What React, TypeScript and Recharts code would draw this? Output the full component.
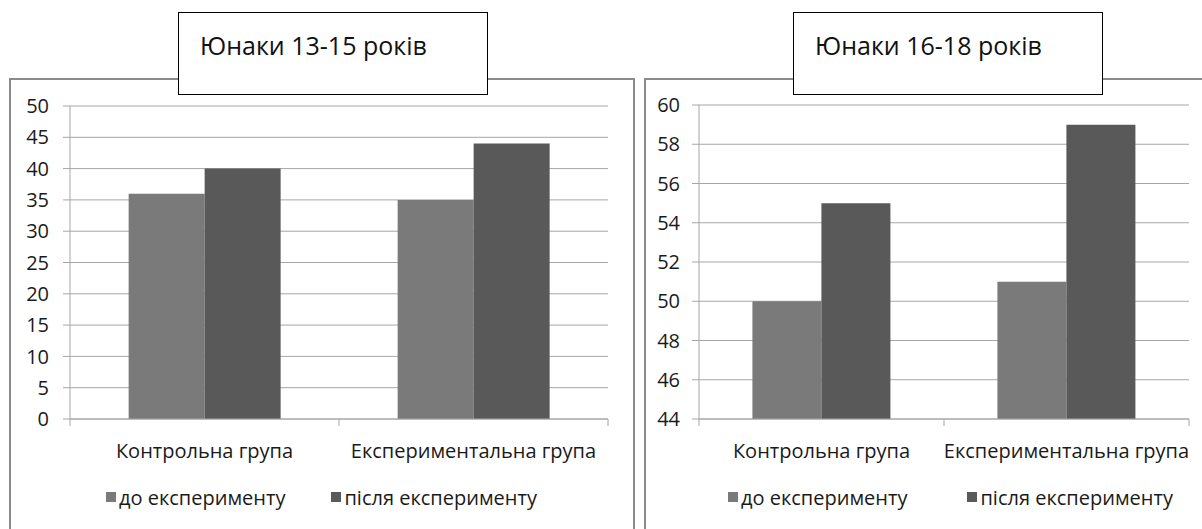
import { BarChart, Bar, XAxis, YAxis, CartesianGrid, Legend } from 'recharts'

const groups = ['Контрольна група', 'Експериментальна група']
const seriesNames = ['до експерименту', 'після експерименту']

const younger = { title: 'Юнаки 13-15 років' }
const youngerBefore = [36, 35]
const youngerAfter = [40, 44]
const youngerTicks = [0, 5, 10, 15, 20, 25, 30, 35, 40, 45, 50]

const older = { title: 'Юнаки 16-18 років' }
const olderBefore = [50, 51]
const olderAfter = [55, 59]
const olderTicks = [44, 46, 48, 50, 52, 54, 56, 58, 60]

const FONT = "'Open Sans', Lato, sans-serif"
const GRID = '#a6a6a6'
const BEFORE = '#7a7a7a'
const AFTER = '#595959'
const TEXT = '#1a1a1a'

function buildRows(before: number[], after: number[]) {
  return groups.map((g, i) => ({ group: g, before: before[i], after: after[i] }))
}

// category label plus Excel-style tick marks on the group boundaries
function GroupTick(props: any) {
  const { x, y, payload, index, band, count } = props
  return (
    <g>
      <line x1={x - band / 2} x2={x - band / 2} y1={y} y2={y + 7} stroke={GRID} />
      {index === count - 1 && <line x1={x + band / 2} x2={x + band / 2} y1={y} y2={y + 7} stroke={GRID} />}
      <text x={x} y={y + 39} textAnchor="middle" fontSize={20} fill={TEXT} fontFamily={FONT}>
        {payload.value}
      </text>
    </g>
  )
}

function LegendRow({ payload, padLeft, gap }: any) {
  return (
    <div style={{ height: 20, display: 'flex', alignItems: 'center', paddingLeft: padLeft, fontFamily: FONT, fontSize: 20, color: TEXT }}>
      {(payload || []).map((p: any, i: number) => (
        <span key={p.value} style={{ display: 'flex', alignItems: 'center', marginLeft: i ? gap : 0 }}>
          <span style={{ width: 10, height: 10, background: p.color, marginRight: 3, display: 'inline-block' }} />
          {p.value}
        </span>
      ))}
    </div>
  )
}

function Panel(props: any) {
  const { left, boxLeft, boxWidth, titleLeft, title, rows, ticks, chartWidth, margin, yWidth, yMargin, legendPad, legendGap } = props
  const band = (chartWidth - margin.left - margin.right - yWidth) / groups.length
  return (
    <>
      <div style={{ position: 'absolute', left: boxLeft, top: 78, width: boxWidth, height: 470, border: '2px solid #8a8a8a', boxSizing: 'border-box', background: '#fff' }} />
      <div style={{ position: 'absolute', left, top: 0 }}>
        <BarChart width={chartWidth} height={529} data={rows} margin={margin} barCategoryGap="21.8%" barGap={0}>
          <CartesianGrid vertical={false} stroke={GRID} />
          <XAxis
            dataKey="group"
            stroke={GRID}
            tickLine={false}
            tickSize={0}
            tickMargin={0}
            height={68}
            interval={0}
            tick={<GroupTick band={band} count={groups.length} />}
          />
          <YAxis
            width={yWidth}
            domain={[ticks[0], ticks[ticks.length - 1]]}
            ticks={ticks}
            interval={0}
            stroke={GRID}
            tickSize={7}
            tickMargin={yMargin}
            tick={{ fontSize: 20, fill: TEXT, fontFamily: FONT }}
          />
          <Legend verticalAlign="bottom" content={(p: any) => <LegendRow payload={p.payload} padLeft={legendPad} gap={legendGap} />} />
          <Bar dataKey="before" name={seriesNames[0]} fill={BEFORE} isAnimationActive={false} />
          <Bar dataKey="after" name={seriesNames[1]} fill={AFTER} isAnimationActive={false} />
        </BarChart>
      </div>
      <div style={{ position: 'absolute', left: titleLeft, top: 12, width: 310, height: 83, border: '1.5px solid #000', boxSizing: 'border-box', background: '#fff', fontFamily: FONT, fontSize: 25, color: '#111', paddingLeft: 21, paddingTop: 15 }}>
        {title}
      </div>
    </>
  )
}

export default function App() {
  return (
    <div style={{ position: 'fixed', left: 0, top: 0, width: 1202, height: 529, overflow: 'hidden', background: '#fff' }}>
      <Panel
        left={0}
        boxLeft={9}
        boxWidth={626}
        titleLeft={178}
        title={younger.title}
        rows={buildRows(youngerBefore, youngerAfter)}
        ticks={youngerTicks}
        chartWidth={640}
        margin={{ top: 106, right: 32, left: 10, bottom: 22 }}
        yWidth={60}
        yMargin={14}
        legendPad={96}
        legendGap={46}
      />
      <Panel
        left={640}
        boxLeft={644}
        boxWidth={600}
        titleLeft={793}
        title={older.title}
        rows={buildRows(olderBefore, olderAfter)}
        ticks={olderTicks}
        chartWidth={562}
        margin={{ top: 105, right: 13, left: 10, bottom: 22 }}
        yWidth={49}
        yMargin={12}
        legendPad={78}
        legendGap={60}
      />
    </div>
  )
}
